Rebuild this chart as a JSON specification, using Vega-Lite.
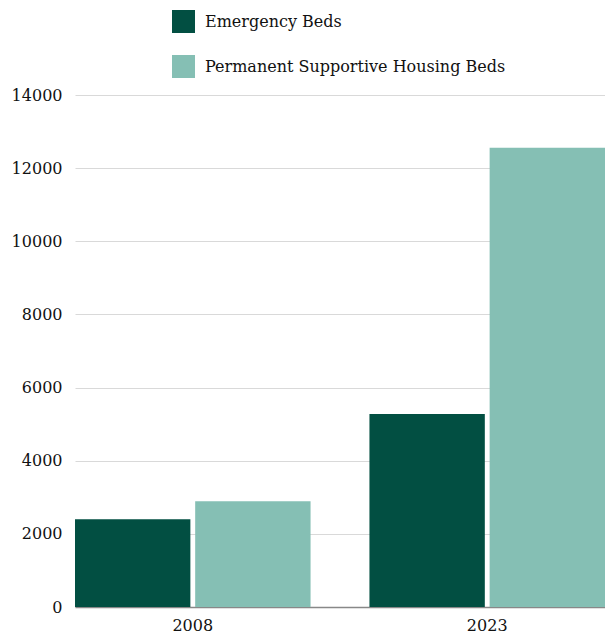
{
  "$schema": "https://vega.github.io/schema/vega-lite/v6.json",
  "autosize": "none",
  "width": 530,
  "height": 512,
  "padding": {"left": 75, "top": 95, "right": 0, "bottom": 26},
  "background": "white",
  "data": {
    "values": [
      {"year": "2008", "type": "Emergency Beds", "beds": 2400},
      {"year": "2008", "type": "Permanent Supportive Housing Beds", "beds": 2890},
      {"year": "2023", "type": "Emergency Beds", "beds": 5280},
      {"year": "2023", "type": "Permanent Supportive Housing Beds", "beds": 12560}
    ]
  },
  "mark": {"type": "bar"},
  "encoding": {
    "x": {
      "field": "year", "type": "nominal",
      "scale": {"paddingInner": 0.2, "paddingOuter": 0},
      "axis": {"title": null, "labelAngle": 0, "ticks": false, "domainColor": "#888888", "domainWidth": 1.5, "labelPadding": 10, "labelFont": "DejaVu Serif", "labelFontSize": 16, "labelColor": "#111111"}
    },
    "xOffset": {
      "field": "type", "type": "nominal",
      "scale": {"paddingInner": 0.04, "paddingOuter": 0}
    },
    "y": {
      "field": "beds", "type": "quantitative",
      "scale": {"domain": [0, 14000], "nice": false},
      "axis": {"title": null, "values": [0, 2000, 4000, 6000, 8000, 10000, 12000, 14000], "labelOverlap": false, "format": "d", "domain": false, "ticks": false, "gridColor": "#d9d9d9", "gridWidth": 1, "labelPadding": 13, "labelFont": "DejaVu Serif", "labelFontSize": 16, "labelColor": "#111111"}
    },
    "color": {
      "field": "type", "type": "nominal",
      "scale": {"domain": ["Emergency Beds", "Permanent Supportive Housing Beds"], "range": ["#024f42", "#85bfb4"]},
      "legend": {
        "title": null, "orient": "none", "legendX": 97, "legendY": -85,
        "direction": "vertical",
        "symbolType": "square", "symbolSize": 529, "symbolStrokeWidth": 0,
        "rowPadding": 22, "labelOffset": 10,
        "labelFont": "DejaVu Serif", "labelFontSize": 16, "labelColor": "#111111", "labelLimit": 400
      }
    }
  },
  "config": {"view": {"stroke": null}}
}
